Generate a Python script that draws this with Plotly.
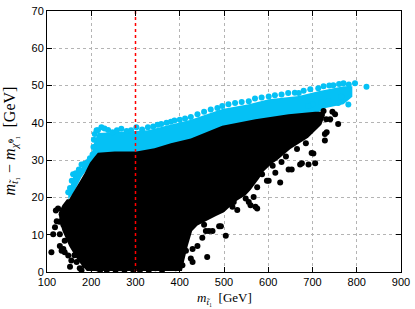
import plotly.graph_objects as go

# ---- data ----
# dense cyan band (outline of the overlapping points)
cyan_band_x = [148, 159, 178, 197, 206, 215, 238, 268, 302, 328, 358, 388, 425, 496, 556, 601, 669, 713, 747, 770, 790,
               790, 770, 750, 730, 700, 646, 571, 496, 425, 343, 253, 208, 197, 178, 159, 148]
cyan_band_y = [21, 25.5, 28, 29.8, 34.5, 37.3, 37.4, 37.6, 38, 38, 38.9, 39.8, 40.8, 43.7, 45, 46.3, 47.2, 48.5, 49.3, 49.8, 49.8,
               47, 45, 44.5, 44, 42, 41, 40, 38, 35, 32.5, 31.5, 30, 28.5, 25.5, 21, 19.5]

# individual cyan points (edge and sparse)
cyan_x = [148, 152, 156, 159, 165, 172, 178, 185, 192, 197, 203, 205, 206, 208, 212, 215, 223, 230, 238, 248, 258, 268,
          280, 290, 302, 315, 328, 340, 350, 358, 370, 380, 388, 400, 412, 425, 440, 455, 470, 485, 496, 510, 525, 540,
          556, 570, 585, 601, 615, 630, 645, 660, 669, 680, 695, 713, 725, 738, 747, 760, 770, 782, 796, 822,
          736, 758, 765, 781, 720, 700, 690]
cyan_y = [21.4, 22.5, 24.5, 26.2, 26.5, 27.5, 28.8, 29, 29.5, 30.5, 31.5, 33.5, 35.5, 37, 38, 38, 38.8, 38.5, 38.1, 37.5,
          38, 38.4, 37.8, 38, 38.8, 38.2, 38.8, 39, 39.5, 39.7, 40, 40.3, 40.6, 40.8, 41.2, 41.6, 42.3, 43, 43.6, 44,
          44.5, 45, 45.3, 45.6, 45.8, 46.5, 46.8, 47.1, 47.4, 47.6, 48, 48.1, 48, 48.6, 49, 49.3, 49.8, 50, 50.1, 50.4,
          50.6, 50.3, 50.6, 49.7,
          45.8, 45.3, 47, 44.9, 45.5, 45, 44.5]

# dense black region (outline of the overlapping points)
black_core_x = [150, 163, 175, 185, 197, 208, 215, 253, 302, 343, 380, 425, 496, 571, 646, 706, 728,
                728, 720, 690, 650, 620, 608, 590, 579, 560, 549, 527, 500, 482, 440, 428, 418, 410, 405,
                190, 170, 150, 135, 128, 127, 135, 145]
black_core_y = [19.5, 22.3, 24.5, 26.5, 29.3, 31, 32, 32.3, 32.3, 33.2, 34.5, 35.8, 39.2, 41, 42.3, 43, 43,
                42, 39.5, 36, 33, 30, 29, 27, 25, 22, 20.6, 19, 16, 15, 12.5, 11, 7, 3, 0.3,
                0.3, 3, 7, 11, 14, 16, 18, 19.5]

# individual black points (sparse fringe)
black_x = [110, 114, 122, 125, 129, 129, 133, 137, 137, 137, 140, 140, 144, 148, 148, 152, 155, 155, 159, 167, 170, 170,
           174, 178, 185, 185, 189, 193, 200, 200, 212, 220, 228, 235, 245, 255, 265, 275, 285, 295, 310, 320, 330,
           345, 360, 372, 145, 152, 160, 165, 178, 175, 190, 150, 133, 128, 120, 118, 162, 182, 196, 207,
           391, 403, 406, 414, 425, 429, 429, 440, 451, 455, 459, 462, 466, 474, 489, 493, 504, 519, 522, 530, 549,
           556, 560, 567, 571, 575, 575, 586, 597, 601, 616, 627, 646, 653, 672, 676, 691, 698, 702, 706, 728, 728,
           732, 751, 758, 740, 745, 725, 731, 640, 610, 540, 512, 665, 685, 630]
black_y = [5.3, 10.1, 13.6, 17, 10.1, 7, 5.7, 6.2, 12.7, 15.3, 5.3, 8.4, 17, 4.4, 11.4, 1.4, 3.1, 18.8, 7.5, 2.7, 6.2,
           11, 1, 0.5, 1.8, 6.6, 4.4, 2.7, 1, 4.4, 1, 0.5, 2, 0.5, 1.5, 0.5, 1, 0.5, 1.5, 0.5, 0.5, 1.5, 0.5,
           1, 0.5, 1.5, 14, 12, 15, 9, 9, 13, 9, 16.5, 15.5, 13.5, 16.5, 12, 4.5, 3.5, 6.5, 2.5,
           1, 4.9, 1.8, 5.7, 3.6, 2.7, 6.2, 7, 9.2, 12.7, 11, 4, 11, 11, 12.3, 12.3, 9.7, 17.5, 18.8, 16.6, 19.7,
           18.8, 17.9, 20.1, 17.5, 17, 22.7, 26.2, 24.5, 24.5, 26.6, 24, 27.5, 27.5, 28.8, 29.2, 28.8, 31.9, 31.8,
           29.2, 35.3, 37, 37.5, 42.3, 39.7, 41, 43, 43.2, 41, 31, 28.5, 22, 18.5, 33, 34.5, 29.5]

cut_x = [300, 300]
cut_y = [0, 70]

x_ticks = [100, 200, 300, 400, 500, 600, 700, 800, 900]
y_ticks = [0, 10, 20, 30, 40, 50, 60, 70]

CYAN = "#05c1f5"

fig = go.Figure()
fig.add_trace(go.Scatter(x=cyan_band_x, y=cyan_band_y, mode="lines", fill="toself",
                         fillcolor=CYAN, line=dict(width=0, color=CYAN), hoverinfo="skip"))
fig.add_trace(go.Scatter(x=cyan_x, y=cyan_y, mode="markers",
                         marker=dict(size=6, color=CYAN, line=dict(width=0))))
fig.add_trace(go.Scatter(x=black_core_x, y=black_core_y, mode="lines", fill="toself",
                         fillcolor="black", line=dict(width=0, color="black"), hoverinfo="skip"))
fig.add_trace(go.Scatter(x=black_x, y=black_y, mode="markers",
                         marker=dict(size=6, color="black", line=dict(width=0))))
fig.add_trace(go.Scatter(x=cut_x, y=cut_y, mode="lines",
                         line=dict(color="#ff0000", width=1.5, dash="dot")))

axis_common = dict(showline=True, linecolor="black", linewidth=1, mirror="ticks",
                   ticks="inside", ticklen=5, tickcolor="black", tickwidth=1,
                   showgrid=True, gridcolor="#b4b4b4", griddash="dot", gridwidth=1,
                   zeroline=False, ticklabeloverflow="allow",
                   tickfont=dict(family="Liberation Sans, Arial", size=11, color="black"))

fig.update_xaxes(range=[100, 900], tickvals=x_ticks, **axis_common)
fig.update_yaxes(range=[0, 70], tickvals=y_ticks, **axis_common)

fig.update_layout(
    width=415, height=309,
    margin=dict(l=47, r=12, t=5, b=37),
    paper_bgcolor="white", plot_bgcolor="white",
    showlegend=False,
    annotations=[
        dict(text="<i>m</i><sub><i>t̃</i>₁</sub>  [GeV]", xref="paper", yref="paper",
             x=0.5, y=0, yanchor="middle", xanchor="center", yshift=-26, showarrow=False,
             font=dict(family="Liberation Serif, Times New Roman", size=13, color="black")),
        dict(text="<i>m</i><sub><i>t̃</i>₁</sub> − <i>m</i><sub><i>χ̃</i>⁰₁</sub>  [GeV]", xref="paper", yref="paper",
             x=0, y=0.5, xanchor="center", yanchor="middle", xshift=-37, textangle=-90, showarrow=False,
             font=dict(family="Liberation Serif, Times New Roman", size=16, color="black")),
    ],
)

fig.write_html("out.html", config={"displayModeBar": False},
               post_script="document.body.style.margin='0';")
